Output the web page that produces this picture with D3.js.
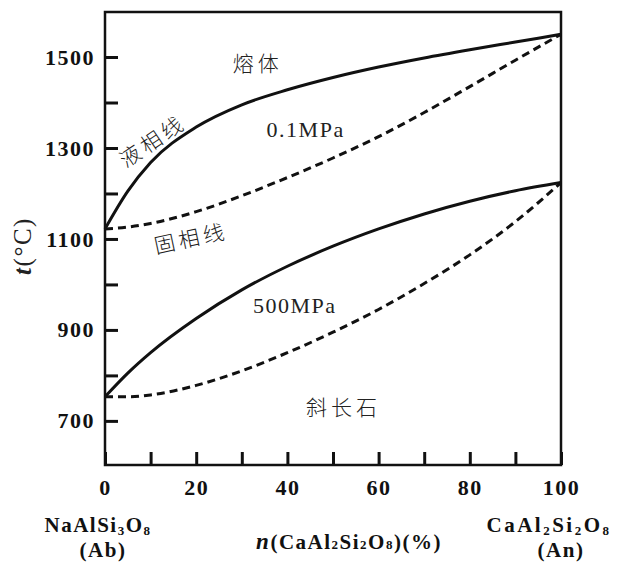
<html>
<head>
    <meta charset="utf-8">
    <script src="https://d3js.org/d3.v7.min.js"></script>
    <title>Ab-An phase diagram</title>
    <style>
        body { margin: 0; background: #fff; }
        .tick text { font-family: "Liberation Serif", serif; font-weight: bold; font-size: 22px; letter-spacing: 1.5px; fill: #111; }
        .tick line { stroke: #111; stroke-width: 3; }
        .cjk { font-family: "Noto Sans CJK SC", sans-serif; font-weight: 300; font-size: 21px; fill: #222; letter-spacing: 4px; }
        .serif { font-family: "Liberation Serif", serif; font-size: 22px; fill: #222; letter-spacing: 1.5px; }
        .bold { font-family: "Liberation Serif", serif; font-weight: bold; font-size: 21px; fill: #111; letter-spacing: 1.5px; }
    </style>
</head>
<body>
<svg id="svg1"></svg>
<script>
    // data
    const compPct = [0, 5, 10, 20, 30, 40, 50, 60, 70, 80, 90, 100];
    const liquidus01 = [1122, 1205, 1268, 1346, 1395, 1428, 1455, 1478, 1498, 1516, 1533, 1550];
    const solidus01 = [1122, 1126, 1134, 1160, 1195, 1235, 1278, 1325, 1378, 1435, 1493, 1550];
    const liquidus500 = [753, 805, 850, 925, 988, 1040, 1084, 1122, 1155, 1183, 1206, 1224];
    const solidus500 = [753, 753, 757, 778, 810, 850, 895, 945, 1002, 1065, 1138, 1224];

    const xTicks = [0, 10, 20, 30, 40, 50, 60, 70, 80, 90, 100];
    const xTickLabels = ["0", "", "20", "", "40", "", "60", "", "80", "", "100"];
    const yTicks = [700, 800, 900, 1000, 1100, 1200, 1300, 1400, 1500];
    const yTickLabels = ["700", "", "900", "", "1100", "", "1300", "", "1500"];

    const width = 620, height = 563;
    const margins = {top: 12, right: 59, bottom: 98, left: 105};
    const chartWidth = width - margins.left - margins.right;
    const chartHeight = height - margins.top - margins.bottom;

    let svg1 = d3.select("svg#svg1")
                 .attr("width", width)
                 .attr("height", height);

    const scaleX = d3.scaleLinear().domain([0, 100]).range([0, chartWidth]);
    const scaleY = d3.scaleLinear().domain([603, 1599]).range([chartHeight, 0]);

    let chartArea = svg1.append("g")
                        .attr("transform", `translate(${margins.left}, ${margins.top})`);

    // axes, ticks pointing inward
    let leftAxis = d3.axisLeft(scaleY)
                     .tickValues(yTicks)
                     .tickFormat((d, i) => yTickLabels[i])
                     .tickSizeInner(-13)
                     .tickSizeOuter(0)
                     .tickPadding(10);
    chartArea.append("g").call(leftAxis).select(".domain").remove();

    let botAxis = d3.axisBottom(scaleX)
                    .tickValues(xTicks)
                    .tickFormat((d, i) => xTickLabels[i])
                    .tickSizeInner(-13)
                    .tickSizeOuter(0)
                    .tickPadding(14);
    chartArea.append("g")
             .attr("transform", `translate(0, ${chartHeight})`)
             .call(botAxis)
             .select(".domain").remove();

    chartArea.append("rect")
             .attr("width", chartWidth)
             .attr("height", chartHeight)
             .attr("fill", "none")
             .attr("stroke", "#111")
             .attr("stroke-width", 2.5);

    // curves
    const lineGen = d3.line()
                      .x((d, i) => scaleX(compPct[i]))
                      .y(d => scaleY(d))
                      .curve(d3.curveMonotoneX);

    const series = [
        {values: liquidus01, dash: null},
        {values: solidus01, dash: "8,5"},
        {values: liquidus500, dash: null},
        {values: solidus500, dash: "8,5"}
    ];
    chartArea.selectAll("path.curve")
             .data(series)
             .join("path")
             .attr("class", "curve")
             .attr("fill", "none")
             .attr("stroke", "#111")
             .attr("stroke-width", 3)
             .attr("stroke-dasharray", d => d.dash)
             .attr("d", d => lineGen(d.values));

    // annotations inside the plot
    function note(txt, p, t, cls, rot) {
        chartArea.append("text")
                 .attr("class", cls)
                 .attr("text-anchor", "middle")
                 .attr("dominant-baseline", "central")
                 .attr("transform", `translate(${scaleX(p)}, ${scaleY(t)}) rotate(${rot || 0})`)
                 .text(txt);
    }
    note("熔体", 33.5, 1489, "cjk");
    note("液相线", 10.3, 1318, "cjk", -34);
    note("0.1MPa", 44, 1340, "serif");
    note("固相线", 18.8, 1104, "cjk", -12);
    note("500MPa", 41.6, 953, "serif");
    note("斜长石", 52.3, 733, "cjk");

    // y title
    let yTitle = svg1.append("text")
                     .attr("class", "serif")
                     .style("font-size", "25px")
                     .attr("text-anchor", "middle")
                     .attr("transform", "translate(31, 246) rotate(-90)");
    yTitle.append("tspan").style("font-style", "italic").style("font-weight", "bold").text("t");
    yTitle.append("tspan").text("(°C)");

    // formulas with subscripts (relative shifts only, so the text stays one chunk)
    function formulaText(x, y, parts, drop, spacing) {
        let t = svg1.append("text").attr("class", "bold").attr("text-anchor", "middle")
                    .attr("x", x).attr("y", y)
                    .style("letter-spacing", spacing + "px");
        let shifted = false;
        parts.forEach(p => {
            let s = t.append("tspan").text(p[0]);
            if (p[1] === "sub") {
                s.style("font-size", "13px");
                if (drop && !shifted) { s.attr("dy", drop); shifted = true; }
            } else if (shifted) {
                s.attr("dy", -drop);
                shifted = false;
            }
            if (p[1] === "it") s.style("font-style", "italic").style("font-size", "23px");
        });
    }
    formulaText(349, 549, [["n", "it"], ["(CaAl"], ["2", "sub"], ["Si"], ["2", "sub"], ["O"], ["8", "sub"], [")(%)"]], 0, 1.5);
    formulaText(98, 532, [["NaAlSi"], ["3", "sub"], ["O"], ["8", "sub"]], 3, 1.5);
    formulaText(549, 532, [["CaAl"], ["2", "sub"], ["Si"], ["2", "sub"], ["O"], ["8", "sub"]], 3, 2.5);

    svg1.append("text").attr("class", "bold").attr("text-anchor", "middle")
        .attr("x", 103).attr("y", 557).text("(Ab)");
    svg1.append("text").attr("class", "bold").attr("text-anchor", "middle")
        .attr("x", 561).attr("y", 557).text("(An)");
</script>
</body>
</html>
